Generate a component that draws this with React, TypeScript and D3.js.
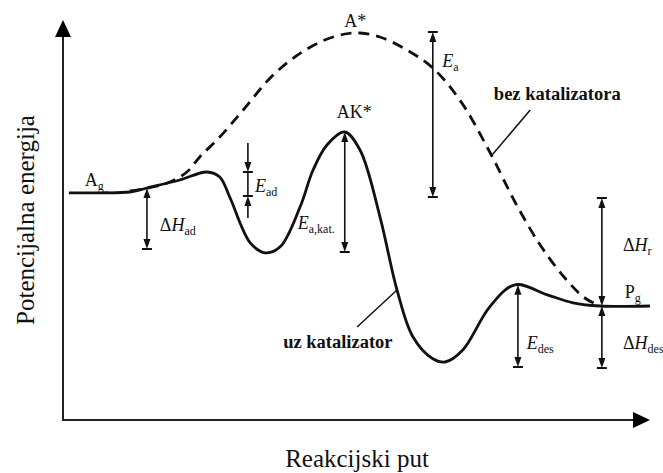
import React from "react";
import * as d3 from "d3";

// Reaction coordinate (0-100) vs. potential energy (0-100), schematic values
const catalysedPath: [number, number][] = [
  [1, 56.8], [6.3, 56.8], [11.4, 57], [14.3, 58], [19.9, 60], [24.5, 62],
  [26.7, 60.75], [28.4, 55.75], [31.9, 44.3], [34.4, 41.8], [37, 43.3], [40.4, 53.3],
  [42.6, 62.5], [45, 68.8], [48, 72], [50.6, 67.5], [54, 50.8], [56.9, 32.5],
  [59.6, 20.8], [63, 15.3], [65.1, 14.5], [68.1, 17.5], [72.7, 28.3], [77, 33.8],
  [82.5, 31.3], [86.9, 29.3], [91.5, 28.5], [100, 28.5],
];

const uncatalysedPath: [number, number][] = [
  [11.4, 57.25], [15.3, 58.25], [18.2, 59.5], [21.1, 62], [23.3, 65.75], [26.7, 70.75],
  [30.7, 77.5], [35.3, 85.5], [39.5, 90.75], [43.8, 94.5], [48, 96.5], [50.6, 96.75],
  [54, 95.75], [58.3, 92.75], [63, 88], [67.6, 80], [72.7, 67], [77, 54.5],
  [81.3, 43.75], [85.5, 35.5], [88.9, 30.5], [91.5, 28.5],
];

// energy arrows: x, top, bottom, head/tick flags
type Arrow = { x: number; y1: number; y2: number; headTop: boolean; headBot: boolean; tickTop: boolean; tickBot: boolean };
const energyArrows: Arrow[] = [
  { x: 14.3, y1: 58, y2: 42.75, headTop: true, headBot: true, tickTop: false, tickBot: true }, // ΔH_ad
  { x: 31.5, y1: 69.25, y2: 62, headTop: false, headBot: true, tickTop: false, tickBot: true }, // E_ad upper
  { x: 31.5, y1: 62, y2: 56, headTop: false, headBot: false, tickTop: false, tickBot: false }, // E_ad mid
  { x: 31.5, y1: 56, y2: 50.5, headTop: true, headBot: false, tickTop: true, tickBot: false }, // E_ad lower
  { x: 48, y1: 72, y2: 42, headTop: true, headBot: true, tickTop: false, tickBot: true }, // E_a,kat
  { x: 63, y1: 97, y2: 55.75, headTop: true, headBot: true, tickTop: true, tickBot: true }, // E_a
  { x: 77.5, y1: 33.8, y2: 13.25, headTop: true, headBot: true, tickTop: false, tickBot: true }, // E_des
  { x: 91.8, y1: 55.5, y2: 28.5, headTop: true, headBot: true, tickTop: true, tickBot: false }, // ΔH_r
  { x: 91.8, y1: 28.5, y2: 13, headTop: true, headBot: true, tickTop: false, tickBot: true }, // ΔH_des
];

type Label = { x: number; y: number; pre?: string; main: string; italic?: boolean; sub?: string; anchor?: string };
const symbolLabels: Label[] = [
  { x: 3.7, y: 58.5, main: "A", sub: "g" },
  { x: 49.8, y: 98.25, main: "A*", anchor: "middle" },
  { x: 64.6, y: 88.25, main: "E", italic: true, sub: "a" },
  { x: 49.6, y: 75.5, main: "AK*", anchor: "middle" },
  { x: 32.7, y: 57, main: "E", italic: true, sub: "ad" },
  { x: 40, y: 47.75, main: "E", italic: true, sub: "a,kat." },
  { x: 16.5, y: 47.25, pre: "Δ", main: "H", italic: true, sub: "ad" },
  { x: 79, y: 17.75, main: "E", italic: true, sub: "des" },
  { x: 95.4, y: 42.25, pre: "Δ", main: "H", italic: true, sub: "r" },
  { x: 95.7, y: 30.5, main: "P", sub: "g" },
  { x: 95.4, y: 17.75, pre: "Δ", main: "H", italic: true, sub: "des" },
];

const curveLabels = [
  { text: "bez katalizatora", x: 73.4, y: 80, lx1: 79.6, ly1: 77.5, lx2: 73.1, ly2: 66.25 },
  { text: "uz katalizator", x: 37.5, y: 18, lx1: 50.1, ly1: 23.25, lx2: 56.9, ly2: 32.5 },
];

const axisTitles = { x: "Reakcijski put", y: "Potencijalna energija" };

const W = 663;
const H = 473;
const FONT = "Liberation Serif, DejaVu Serif, serif";

export default function App() {
  const x = d3.scaleLinear().domain([0, 100]).range([63, 650]);
  const y = d3.scaleLinear().domain([0, 100]).range([420, 20]);
  const line = d3
    .line<[number, number]>()
    .x((d) => x(d[0]))
    .y((d) => y(d[1]))
    .curve(d3.curveCatmullRom.alpha(0.5));

  const hw = 3.5; // arrow half width
  const hl = 10; // arrow head length
  const tw = 5; // tick half width

  return (
    <svg width={W} height={H} style={{ position: "absolute", left: 0, top: 0, background: "#fff", fontFamily: FONT }}>
      {/* axes */}
      <line x1={x(0)} y1={y(0)} x2={x(100) - 10} y2={y(0)} stroke="#222" strokeWidth={2} />
      <path d={`M${x(100)},${y(0)} L${x(100) - 17},${y(0) - 8} L${x(100) - 17},${y(0) + 8} Z`} fill="#000" />
      <line x1={x(0)} y1={y(0) + 1} x2={x(0)} y2={y(100) + 10} stroke="#222" strokeWidth={2} />
      <path d={`M${x(0)},${y(100)} L${x(0) - 8},${y(100) + 17} L${x(0) + 8},${y(100) + 17} Z`} fill="#000" />

      {/* curves */}
      <path d={line(uncatalysedPath) || ""} fill="none" stroke="#111" strokeWidth={2.8} strokeDasharray="11 7" />
      <path d={line(catalysedPath) || ""} fill="none" stroke="#111" strokeWidth={2.8} />

      {/* energy arrows */}
      {energyArrows.map((a, i) => {
        const cx = x(a.x);
        const t = y(a.y1);
        const b = y(a.y2);
        return (
          <g key={i} stroke="#111" fill="#111">
            <line x1={cx} y1={t + (a.headTop ? 4 : 0)} x2={cx} y2={b - (a.headBot ? 4 : 0)} strokeWidth={1.6} />
            {a.headTop && <path d={`M${cx},${t} L${cx - hw},${t + hl} L${cx + hw},${t + hl} Z`} stroke="none" />}
            {a.headBot && <path d={`M${cx},${b} L${cx - hw},${b - hl} L${cx + hw},${b - hl} Z`} stroke="none" />}
            {a.tickTop && <line x1={cx - tw} x2={cx + tw} y1={t} y2={t} strokeWidth={2} />}
            {a.tickBot && <line x1={cx - tw} x2={cx + tw} y1={b} y2={b} strokeWidth={2} />}
          </g>
        );
      })}

      {/* symbol labels */}
      {symbolLabels.map((l, i) => (
        <text key={i} x={x(l.x)} y={y(l.y)} fontSize={18} fill="#111" textAnchor={l.anchor || "start"} style={{ fontFamily: FONT }}>
          {l.pre && <tspan>{l.pre}</tspan>}
          <tspan fontStyle={l.italic ? "italic" : "normal"}>{l.main}</tspan>
          {l.sub && (
            <tspan fontSize={12} dy={4}>
              {l.sub}
            </tspan>
          )}
        </text>
      ))}

      {/* curve labels */}
      {curveLabels.map((c, i) => (
        <g key={i}>
          <line x1={x(c.lx1)} y1={y(c.ly1)} x2={x(c.lx2)} y2={y(c.ly2)} stroke="#111" strokeWidth={1.5} />
          <text x={x(c.x)} y={y(c.y)} fontSize={18.5} fontWeight="bold" fill="#111" style={{ fontFamily: FONT }}>
            {c.text}
          </text>
        </g>
      ))}

      {/* axis titles */}
      <text x={357} y={467} fontSize={25} textAnchor="middle" fill="#111" style={{ fontFamily: FONT }}>
        {axisTitles.x}
      </text>
      <text transform={`translate(34,220) rotate(-90)`} fontSize={25} textAnchor="middle" fill="#111" style={{ fontFamily: FONT }}>
        {axisTitles.y}
      </text>
    </svg>
  );
}
